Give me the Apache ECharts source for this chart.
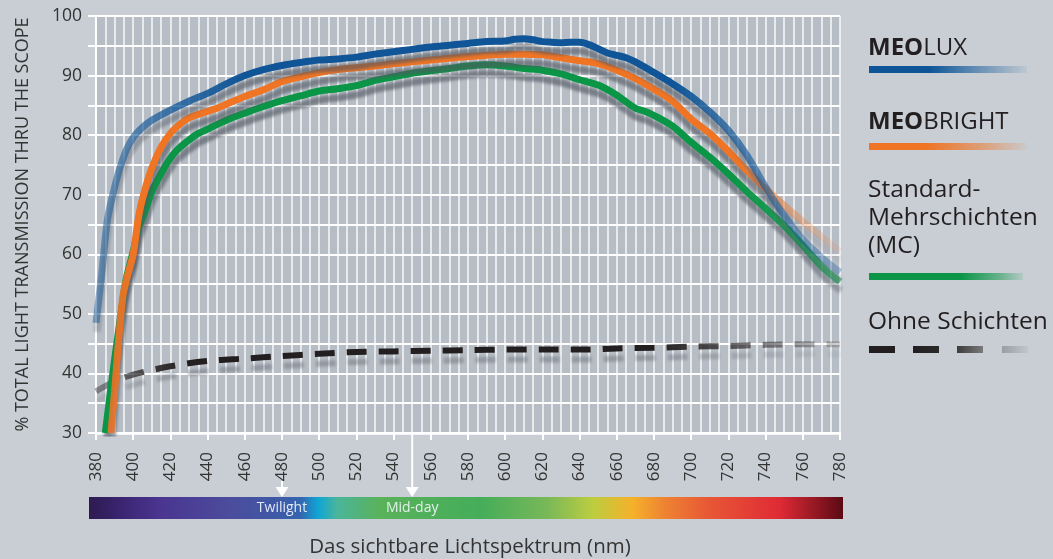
<!DOCTYPE html>
<html><head><meta charset="utf-8">
<script src="https://cdn.jsdelivr.net/npm/echarts@6/dist/echarts.min.js"></script>
<style>html,body{margin:0;padding:0;background:#c8ced4;}#c{width:1053px;height:559px;}</style>
</head><body><div id="c"></div>
<script>
// ---- data ----
const luxNm  = [380,383,386,389,392,396,400,405,410,420,430,440,450,460,470,480,490,500,510,520,530,540,550,560,570,580,590,600,605,610,615,620,625,630,635,640,645,650,655,660,665,670,680,690,700,710,720,730,740,750,760,770,780];
const luxVal = [48.5,56.5,65.5,70,73.6,77.3,79.6,81.3,82.5,84.2,85.7,87.0,88.6,90.0,91.0,91.7,92.2,92.6,92.8,93.1,93.6,94.0,94.4,94.8,95.1,95.4,95.7,95.8,96.1,96.2,96.0,95.7,95.6,95.5,95.6,95.6,95.2,94.5,93.8,93.4,93.0,92.3,90.5,88.6,86.5,83.9,80.8,76.6,71.3,66.5,62.5,59.5,57.0];
const brightNm  = [388,390,392,394.5,397,400,403,406,410,415,420,425,430,437,445,450,460,470,480,490,500,510,520,530,540,550,560,570,580,590,600,610,620,630,640,650,660,670,680,690,700,710,720,730,740,750,760,770,780];
const brightVal = [30,37,45,53,56.5,60,66.5,70.5,74.5,78,80.3,81.8,82.9,83.7,84.5,85.2,86.5,87.6,89.0,89.8,90.5,91.0,91.3,91.6,92.0,92.3,92.6,92.9,93.2,93.4,93.6,93.6,93.5,93.0,92.5,92.0,90.9,89.5,87.7,85.7,82.7,80.3,77.3,74.0,71.0,68.2,65.5,63.0,60.5];
const mcNm  = [385,387,390,393,396,400,403,406,410,414,418,423,430,435,440,450,460,470,480,490,500,510,520,530,540,550,560,570,580,590,600,610,620,630,640,650,660,670,675,680,690,700,710,720,730,740,750,760,770,780];
const mcVal = [30,35,42.3,49,55.5,60.5,64.5,66.9,70.5,73,75.2,77.3,79.2,80.3,81.0,82.5,83.7,84.8,85.8,86.6,87.4,87.8,88.3,89.2,89.8,90.4,90.8,91.2,91.6,91.8,91.6,91.2,90.9,90.3,89.3,88.4,86.7,84.5,84.0,83.3,81.5,78.8,76.3,73.5,70.5,67.7,64.8,61.5,58.0,55.4];
const noneNm  = [380,390,400,420,440,460,480,500,520,540,560,580,600,620,640,660,680,700,720,740,760,780];
const noneVal = [37.0,38.7,39.8,41.2,42.1,42.5,42.9,43.3,43.6,43.7,43.8,43.9,44.0,44.0,44.0,44.2,44.3,44.5,44.6,44.8,44.9,44.9];
const seriesNames = ['MEOLUX','MEOBRIGHT','Standard-Mehrschichten (MC)','Ohne Schichten'];
const markerNm = [480, 550];
const markerLabels = ['Twilight','Mid-day'];
const xTitle = 'Das sichtbare Lichtspektrum (nm)';
const yTitle = '% TOTAL LIGHT TRANSMISSION THRU THE SCOPE';

// ---- chart ----
const FONT = "'Open Sans', sans-serif";
const chart = echarts.init(document.getElementById('c'), null, {renderer:'canvas'});
const pairs = (xs, ys) => xs.map((x, i) => [x, ys[i]]);
const shadow = {shadowColor:'rgba(80,87,97,0.62)', shadowBlur:3, shadowOffsetY:9, shadowOffsetX:1};

chart.setOption({
  backgroundColor:'#c8ced4',
  animation:false,
  textStyle:{fontFamily:FONT},
  grid:{left:96, right:213, top:16, bottom:126, show:true, backgroundColor:'#b7bdc5', borderWidth:0},
  xAxis:{type:'value', min:380, max:780, interval:20,
    axisLine:{show:true, onZero:false, lineStyle:{color:'#fff', width:2.5}},
    axisTick:{show:true, length:7, lineStyle:{color:'#fff', width:2}},
    minorTick:{show:false, splitNumber:4},
    splitLine:{show:true, lineStyle:{color:'rgba(255,255,255,0.75)', width:1.8}},
    minorSplitLine:{show:true, lineStyle:{color:'rgba(255,255,255,0.75)', width:1.8}},
    axisLabel:{rotate:90, margin:19, fontSize:17, color:'#333', fontFamily:FONT}
  },
  yAxis:{type:'value', min:30, max:100, interval:10,
    axisLine:{show:true, onZero:false, lineStyle:{color:'#fff', width:2}},
    axisTick:{show:true, length:8, lineStyle:{color:'#fff', width:2}},
    minorTick:{show:true, splitNumber:2, length:8, lineStyle:{color:'#fff', width:2}},
    splitLine:{show:true, lineStyle:{color:'#fff', width:2}},
    minorSplitLine:{show:true, lineStyle:{color:'#fff', width:2}},
    axisLabel:{margin:14, fontSize:17.5, color:'#333', fontFamily:FONT}
  },
  series:[
    {type:'line', name:seriesNames[3], data:pairs(noneNm, noneVal), smooth:0.3, symbol:'none', z:2,
      lineStyle:Object.assign({width:6, color:'#231f20', type:[20,12]}, shadow, {shadowOffsetY:10, shadowColor:'rgba(90,96,106,0.4)'})},
    {type:'line', name:seriesNames[2], data:pairs(mcNm, mcVal), smooth:0.3, symbol:'none', z:3,
      lineStyle:Object.assign({width:7, color:'#0a9646'}, shadow)},
    {type:'line', name:seriesNames[1], data:pairs(brightNm, brightVal), smooth:0.3, symbol:'none', z:4,
      lineStyle:Object.assign({width:7, color:'#ef7424'}, shadow)},
    {type:'line', name:seriesNames[0], data:pairs(luxNm, luxVal), smooth:0.3, symbol:'none', z:5,
      lineStyle:Object.assign({width:7, color:'#0f5597'}, shadow)}
  ]
});

const px = v => chart.convertToPixel({xAxisIndex:0}, v);
const py = v => chart.convertToPixel({yAxisIndex:0}, v);
const X0 = px(380), X1 = px(780);
function grad(rgb, stops){
  return {type:'linear', x:X0, y:0, x2:X1, y2:0, global:true,
    colorStops: stops.map(([nm, a]) => ({offset:(nm-380)/400, color:'rgba('+rgb+','+a+')'}))};
}
function hgrad(x, w, rgb, stops){
  return {type:'linear', x:x, y:0, x2:x+w, y2:0, global:true,
    colorStops: stops.map(([o, a]) => ({offset:o, color:'rgba('+rgb+','+a+')'}))};
}

const gr = [];
// axis titles
gr.push({type:'text', x:23, y:(py(100)+py(30))/2, rotation:Math.PI/2,
  style:{text:yTitle, font:'18px '+FONT, fill:'#333', align:'center', verticalAlign:'middle'}});
gr.push({type:'text', x:470, y:547, style:{text:xTitle, font:'20.5px '+FONT, fill:'#333', align:'center', verticalAlign:'middle'}});
// spectrum bar
const specStops = [[0,'#2d1b50'],[0.04,'#3a2470'],[0.094,'#4a3590'],[0.187,'#4c4c9c'],[0.253,'#3d5aa8'],[0.28,'#3565b0'],[0.304,'#10a5d5'],[0.329,'#4ab59a'],[0.386,'#5ab25a'],[0.519,'#45ad5a'],[0.607,'#78b858'],[0.668,'#bccd40'],[0.721,'#f5b12a'],[0.761,'#ee8532'],[0.82,'#e85835'],[0.916,'#e02a35'],[1,'#5a0a15']];
gr.push({type:'rect', shape:{x:89, y:497, width:754, height:22},
  style:{fill:{type:'linear', x:0, y:0, x2:1, y2:0, colorStops:specStops.map(([o,c])=>({offset:o,color:c}))}}});
// markers
const axisY = py(30);
markerNm.forEach((nm, i) => {
  const x = px(nm);
  const yStart = i === 0 ? 481 : axisY;
  gr.push({type:'line', shape:{x1:x, y1:yStart, x2:x, y2:489}, style:{stroke:'#fff', lineWidth:2}});
  gr.push({type:'polygon', shape:{points:[[x-6.5,487],[x+6.5,487],[x,497]]}, style:{fill:'#fff'}});
  gr.push({type:'text', x:x, y:508, style:{text:markerLabels[i], font:'14px '+FONT, fill:'rgba(240,245,250,0.92)', align:'center', verticalAlign:'middle'}});
});
// legend
const LX = 868;
const rich = {b:{font:'bold 24px '+FONT, fill:'#231f20'}, r:{font:'24px '+FONT, fill:'#231f20'}};
gr.push({type:'text', x:LX, y:48, style:{text:'{b|MEO}{r|LUX}', rich:rich, verticalAlign:'middle'}});
gr.push({type:'rect', shape:{x:869, y:66, width:158, height:7}, style:{fill:hgrad(869,158,'13,85,151',[[0,1],[0.38,1],[0.7,0.5],[1,0.05]])}});
gr.push({type:'text', x:LX, y:122, style:{text:'{b|MEO}{r|BRIGHT}', rich:rich, verticalAlign:'middle'}});
gr.push({type:'rect', shape:{x:869, y:143, width:158, height:7}, style:{fill:hgrad(869,158,'239,116,36',[[0,1],[0.36,1],[0.7,0.55],[1,0.05]])}});
['Standard-','Mehrschichten','(MC)'].forEach((t, i) => {
  gr.push({type:'text', x:LX, y:190 + i*28, style:{text:t, font:'24.5px '+FONT, fill:'#231f20', verticalAlign:'middle'}});
});
gr.push({type:'rect', shape:{x:869, y:273, width:154, height:7}, style:{fill:hgrad(869,154,'10,150,70',[[0,1],[0.6,1],[0.85,0.5],[1,0.1]])}});
gr.push({type:'text', x:LX, y:322, style:{text:'Ohne Schichten', font:'24.5px '+FONT, fill:'#231f20', verticalAlign:'middle'}});
[[869,'#231f20','#231f20'],[913,'#231f20','#2a2a2a'],[957,'#3c3c3c','#7a7a7a'],[1002,'#9a9da2','#c2c6cb']].forEach(([x,c1,c2]) => {
  gr.push({type:'rect', shape:{x:x, y:346, width:26, height:7},
    style:{fill:{type:'linear', x:0, y:0, x2:1, y2:0, colorStops:[{offset:0,color:c1},{offset:1,color:c2}]}}});
});

chart.setOption({
  series:[
    {lineStyle:{color:grad('35,31,32',[[380,0.4],[392,0.55],[410,0.85],[430,1],[680,1],[720,0.7],[760,0.4],[780,0.2]])}},
    {lineStyle:{color:grad('10,150,70',[[380,1],[720,1],[760,0.85],[780,0.6]])}},
    {lineStyle:{color:grad('239,116,36',[[380,0.75],[400,1],[725,1],[745,0.55],[765,0.25],[780,0.1]])}},
    {lineStyle:{color:grad('15,85,151',[[380,0.45],[400,0.6],[420,0.75],[460,1],[690,1],[720,0.7],[750,0.5],[780,0.3]])}}
  ],
  graphic:gr
});
</script>
</body></html>
